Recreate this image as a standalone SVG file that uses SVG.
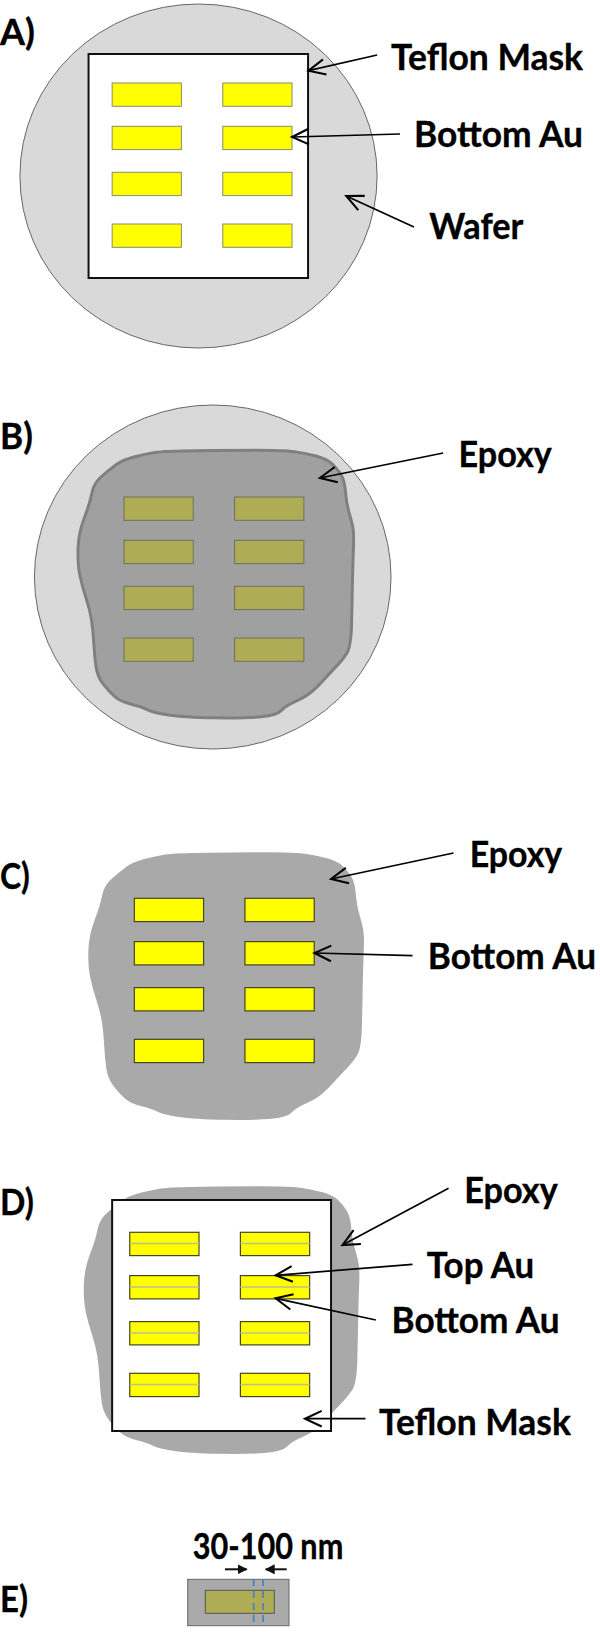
<svg xmlns="http://www.w3.org/2000/svg" width="600" height="1632" viewBox="0 0 600 1632">
<style>
text{font-family:"Lato","Liberation Sans",sans-serif;font-weight:700;font-size:36px;fill:#000;stroke:#000;stroke-width:.35}
.wafer{fill:#d9d9d9;stroke:#666;stroke-width:1}
.mask{fill:#fff;stroke:#111;stroke-width:2}
.ep{fill:#a9a9a9}
.epb{fill:#a0a0a0;stroke:#808080;stroke-width:3;stroke-linejoin:round}
.pa{fill:#ff0;stroke:#8a8a70;stroke-width:1}
.pb{fill:#aead55;stroke:#6f6f5c;stroke-width:1}
.pc{fill:#ff0;stroke:#45451f;stroke-width:1.2}
.seam{stroke:#bdbd9a;stroke-width:1.5}
.arr{fill:none;stroke:#000;stroke-width:1.7;marker-end:url(#open)}
.arrs{fill:none;stroke:#111;stroke-width:2;marker-end:url(#fill)}
.dash{stroke:#4f81bd;stroke-width:1.8;stroke-dasharray:7 5}
</style>
<defs>
<marker id="open" markerUnits="userSpaceOnUse" markerWidth="24" markerHeight="24" refX="16" refY="8" orient="auto" viewBox="0 0 20 16"><path d="M2,1.5L16,8L2,14.5" fill="none" stroke="#000" stroke-width="1.7"/></marker>
<marker id="fill" markerUnits="userSpaceOnUse" markerWidth="10" markerHeight="10" refX="9" refY="5" orient="auto" viewBox="0 0 10 10"><path d="M0,0L10,5L0,10z" fill="#111"/></marker>
<g id="pads">
<rect width="69.6" height="23.3"/><rect x="111.2" width="69.6" height="23.3"/>
<rect y="43.3" width="69.6" height="23.3"/><rect x="111.2" y="43.3" width="69.6" height="23.3"/>
<rect y="89.3" width="69.6" height="23.3"/><rect x="111.2" y="89.3" width="69.6" height="23.3"/>
<rect y="141" width="69.6" height="23.3"/><rect x="111.2" y="141" width="69.6" height="23.3"/>
</g>
<path id="blob" d="M198.1,450.7Q230.8,450.3 257.7,450.3Q284.6,450.3 296.2,451.8Q307.7,453.3 318.3,456.3Q328.8,459.3 333.7,463.8Q338.5,468.3 342.4,474.2Q346.2,480 347.2,491.7Q348.1,503.3 350.6,511.7Q353.1,520 354.5,526.7Q355.8,533.3 355.2,548.3Q354.6,563.3 354.2,583.3Q353.8,603.3 353.3,625Q352.7,646.7 348.5,653.4Q344.2,660 338.5,665.9Q332.7,671.7 326,679.2Q319.2,686.7 313.5,691.7Q307.7,696.7 297.1,701.4Q286.5,706 282.7,710.5Q278.8,715 262.5,716.7Q246.2,718.3 215.4,717.8Q184.6,717.3 169.2,715Q153.8,712.7 148,709.7Q142.3,706.7 131.8,704.2Q121.2,701.7 115.4,696.7Q109.6,691.7 103.8,684.2Q98,676.7 96.5,666.7Q95,656.7 94.3,643.4Q93.5,630 92,620Q90.4,610 86.6,598.4Q82.7,586.7 80.4,575.9Q78,565 78.4,549.2Q78.8,533.3 84.6,518.3Q90.4,503.3 92.3,493.3Q94.2,483.3 101.9,476.7Q109.6,470 116.3,465Q123,460 134.5,457Q146,454 155.7,452.5Q165.4,451 198.1,450.7Z"/>
</defs>
<g transform="scale(.995,1)">
<g id="panel-a">
<ellipse class="wafer" cx="199.5" cy="176" rx="179.5" ry="172"/>
<rect class="mask" x="89" y="54" width="220.6" height="224"/>
<use href="#pads" class="pa" transform="translate(112.7,83)"/>
<text x="0" y="45" textLength="35" lengthAdjust="spacingAndGlyphs">A)</text>
<text x="393" y="70" textLength="193" lengthAdjust="spacingAndGlyphs">Teflon Mask</text>
<text x="416" y="147" textLength="170" lengthAdjust="spacingAndGlyphs">Bottom Au</text>
<text x="431.5" y="239" textLength="94.5" lengthAdjust="spacingAndGlyphs">Wafer</text>
</g>
<g id="panel-b">
<ellipse class="wafer" cx="213.8" cy="577" rx="179.2" ry="172"/>
<use href="#blob" class="epb"/>
<use href="#pads" class="pb" transform="translate(124.6,497)"/>
<text x="0" y="449" textLength="33" lengthAdjust="spacingAndGlyphs">B)</text>
<text x="460.8" y="467" textLength="93.8" lengthAdjust="spacingAndGlyphs">Epoxy</text>
</g>
<g id="panel-c">
<use href="#blob" class="ep" transform="translate(10.4,402)"/>
<use href="#pads" class="pc" transform="translate(135,898.3)"/>
<text x="0" y="889" textLength="30" lengthAdjust="spacingAndGlyphs">C)</text>
<text x="472" y="867" textLength="93" lengthAdjust="spacingAndGlyphs">Epoxy</text>
<text x="430" y="969" textLength="169" lengthAdjust="spacingAndGlyphs">Bottom Au</text>
</g>
<g id="panel-d">
<use href="#blob" class="ep" transform="translate(5.8,736)"/>
<rect class="mask" x="112.7" y="1200" width="220" height="231"/>
<use href="#pads" class="pc" transform="translate(130.4,1232.3)"/>
<path class="seam" d="M130.4,1243.6h69.6M241.6,1243.6h69.6M130.4,1286.9h69.6M241.6,1286.9h69.6M130.4,1332.9h69.6M241.6,1332.9h69.6M130.4,1384.6h69.6M241.6,1384.6h69.6"/>
<text x="0" y="1215" textLength="34" lengthAdjust="spacingAndGlyphs">D)</text>
<text x="466.5" y="1203" textLength="94" lengthAdjust="spacingAndGlyphs">Epoxy</text>
<text x="429" y="1278" textLength="108" lengthAdjust="spacingAndGlyphs">Top Au</text>
<text x="393.5" y="1333" textLength="169" lengthAdjust="spacingAndGlyphs">Bottom Au</text>
<text x="380.8" y="1435" textLength="193" lengthAdjust="spacingAndGlyphs">Teflon Mask</text>
</g>
<g id="connectors">
<path class="arr" d="M379,55L310,70.7"/>
<path class="arr" d="M402,134L293.5,137"/>
<path class="arr" d="M416,227L348,196"/>
<path class="arr" d="M445.4,453L321.5,478"/>
<path class="arr" d="M455.8,853L332.7,879"/>
<path class="arr" d="M414.6,955.7L316,953"/>
<path class="arr" d="M450.8,1188.3L344.2,1245"/>
<path class="arr" d="M414.6,1264.3L277,1275.3"/>
<path class="arr" d="M377.7,1320L277,1298.3"/>
<path class="arr" d="M367.3,1418.7L306.5,1418.7"/>
</g>
</g>
<g id="panel-e">
<rect x="187.7" y="1579.3" width="101.3" height="46.4" fill="#aaa" stroke="#666" stroke-width="1"/>
<rect x="205.3" y="1590.3" width="69" height="23" fill="#aead55" stroke="#555" stroke-width="1"/>
<path class="dash" d="M253.7,1579v47M263,1579v47"/>
<text x="0" y="1612" textLength="28" lengthAdjust="spacingAndGlyphs">E)</text>
<text x="192.7" y="1559" textLength="150.6" lengthAdjust="spacingAndGlyphs">30-100 nm</text>
</g>
<g id="connectors-e">
<path class="arrs" d="M225,1569.3H246.7"/>
<path class="arrs" d="M286.7,1569.3H265.7"/>
</g>
</svg>
